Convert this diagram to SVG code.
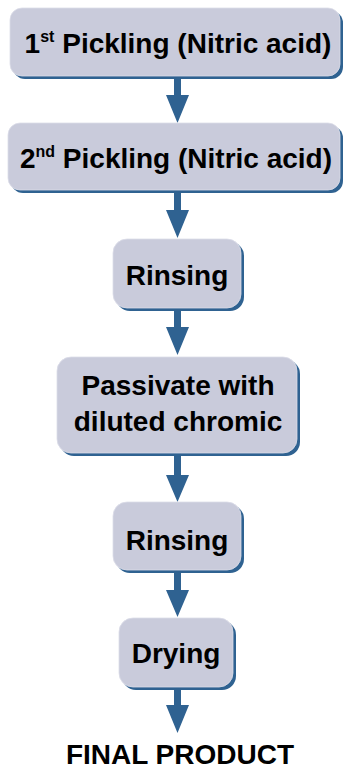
<svg xmlns="http://www.w3.org/2000/svg" width="343" height="770" viewBox="0 0 343 770">
<defs>
<style>
.sh{fill:#2f6291}
.bx{fill:#c9cbdb;stroke:#dcdde8;stroke-width:0.8}
.t{font-family:"Liberation Sans",Arial,Helvetica,sans-serif;font-weight:bold;font-size:28px;fill:#000;text-anchor:middle}
.ar{fill:#2f6291}
</style>
</defs>
<rect width="343" height="770" fill="#fff"/>
<g id="connectors">
<path class="ar" d="M174,78 H181 V95 H189 L177.5,123 L166,95 H174 Z"/>
<path class="ar" d="M174,192 H181 V210 H189 L177.5,238 L166,210 H174 Z"/>
<path class="ar" d="M174,310 H181 V327 H189 L177.5,355 L166,327 H174 Z"/>
<path class="ar" d="M174,455 H181 V475 H189 L177.5,502 L166,475 H174 Z"/>
<path class="ar" d="M174,572 H181 V590 H189 L177.5,617 L166,590 H174 Z"/>
<path class="ar" d="M174,689 H181 V705 H189 L177.5,733 L166,705 H174 Z"/>
</g>
<g id="n1">
<rect class="sh" x="13" y="11" width="330" height="68" rx="12"/>
<rect class="bx" x="10" y="8" width="330" height="68" rx="12"/>
<text class="t" x="178" y="53">1<tspan dy="-11" font-size="16">st</tspan><tspan dy="11"> Pickling (Nitric acid)</tspan></text>
</g>
<g id="n2">
<rect class="sh" x="11" y="126" width="332" height="67" rx="12"/>
<rect class="bx" x="8" y="123" width="332" height="67" rx="12"/>
<text class="t" x="176" y="168">2<tspan dy="-11" font-size="16">nd</tspan><tspan dy="11"> Pickling (Nitric acid)</tspan></text>
</g>
<g id="n3">
<rect class="sh" x="116" y="242" width="128" height="69" rx="14"/>
<rect class="bx" x="113" y="239" width="128" height="69" rx="14"/>
<text class="t" x="177" y="285">Rinsing</text>
</g>
<g id="n4">
<rect class="sh" x="60" y="360" width="240" height="96" rx="14"/>
<rect class="bx" x="57" y="357" width="240" height="96" rx="14"/>
<text class="t" x="178" y="395">Passivate with</text>
<text class="t" x="178" y="431">diluted chromic</text>
</g>
<g id="n5">
<rect class="sh" x="116" y="505" width="128" height="68" rx="14"/>
<rect class="bx" x="113" y="502" width="128" height="68" rx="14"/>
<text class="t" x="177" y="550">Rinsing</text>
</g>
<g id="n6">
<rect class="sh" x="122" y="621" width="114" height="69" rx="14"/>
<rect class="bx" x="119" y="618" width="114" height="69" rx="14"/>
<text class="t" x="176" y="663">Drying</text>
</g>
<g id="final">
<text class="t" x="180" y="764" font-size="28.5">FINAL PRODUCT</text>
</g>
</svg>
